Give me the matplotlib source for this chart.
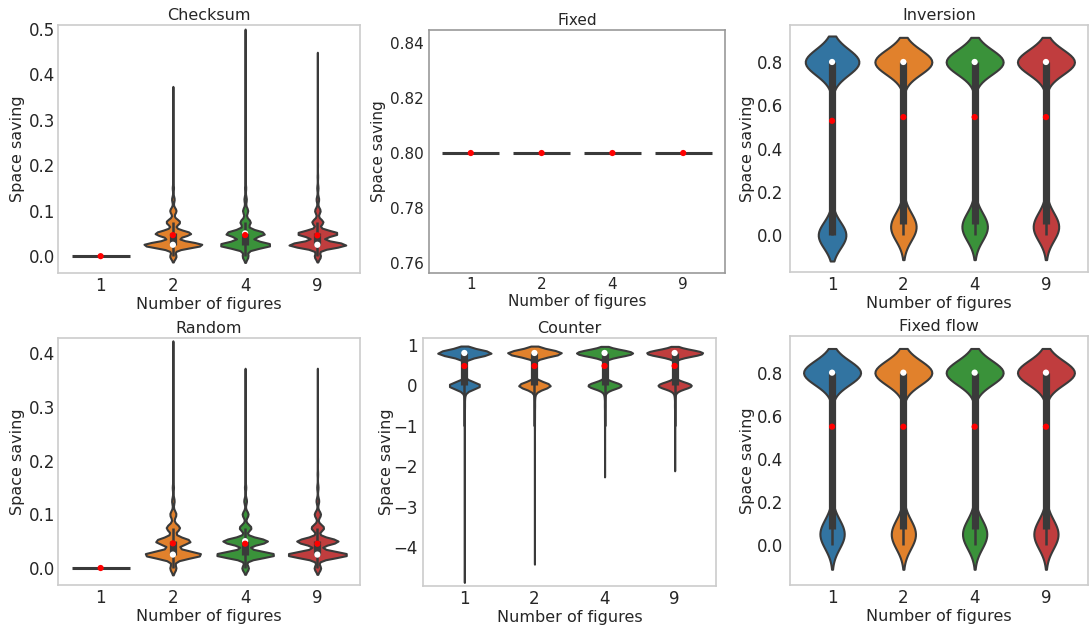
import numpy as np
import matplotlib
matplotlib.use("Agg")
import matplotlib.pyplot as plt

plt.rcParams['font.family'] = ['DejaVu Sans']

# ---------------- data (value levels and their counts) -------------
categories = ["1", "2", "4", "9"]

# Checksum
chk_vals_1 = [0.0]
chk_cnt_1 = [6000]
chk_vals_2 = [0.0, 0.025, 0.05, 0.075, 0.1, 0.125, 0.15, 0.175, 0.2, 0.225, 0.25, 0.275, 0.3, 0.325, 0.36]
chk_cnt_2 = [300, 2800, 1700, 650, 300, 125, 60, 27, 14, 7, 7, 7, 7, 7, 7]
chk_vals_4 = [0.0, 0.025, 0.05, 0.075, 0.1, 0.125, 0.15, 0.175, 0.2, 0.25, 0.3, 0.35, 0.4, 0.45, 0.485]
chk_cnt_4 = [300, 2700, 2030, 540, 270, 125, 60, 27, 14, 9, 7, 7, 7, 5, 5]
chk_vals_9 = [0.0, 0.025, 0.05, 0.075, 0.1, 0.125, 0.15, 0.175, 0.2, 0.25, 0.3, 0.35, 0.4, 0.435]
chk_cnt_9 = [300, 2750, 1980, 540, 270, 125, 60, 27, 14, 9, 7, 7, 5, 5]

# Fixed
fix_vals = [0.8]
fix_cnt = [1000]

# Inversion
inv_vals_1 = [0.0, 0.8]
inv_cnt_1 = [3400, 6600]
inv_vals_2 = [0.0, 0.025, 0.05, 0.075, 0.1, 0.8]
inv_cnt_2 = [700, 900, 1100, 400, 250, 6650]
inv_vals_4 = [0.0, 0.025, 0.05, 0.075, 0.1, 0.8]
inv_cnt_4 = [700, 900, 1100, 400, 250, 6650]
inv_vals_9 = [0.0, 0.025, 0.05, 0.075, 0.1, 0.8]
inv_cnt_9 = [700, 900, 1100, 400, 250, 6650]

# Random
rnd_vals_1 = [0.0]
rnd_cnt_1 = [6000]
rnd_vals_2 = [0.0, 0.025, 0.05, 0.075, 0.1, 0.125, 0.15, 0.175, 0.2, 0.25, 0.3, 0.35, 0.41]
rnd_cnt_2 = [300, 2800, 1700, 650, 300, 125, 60, 27, 14, 9, 7, 7, 7]
rnd_vals_4 = [0.0, 0.025, 0.05, 0.075, 0.1, 0.125, 0.15, 0.175, 0.2, 0.25, 0.3, 0.36]
rnd_cnt_4 = [300, 2700, 2030, 540, 270, 125, 60, 27, 14, 9, 7, 7]
rnd_vals_9 = [0.0, 0.025, 0.05, 0.075, 0.1, 0.125, 0.15, 0.175, 0.2, 0.25, 0.3, 0.36]
rnd_cnt_9 = [300, 2800, 1900, 580, 290, 125, 60, 27, 14, 9, 7, 7]

# Counter
cnt_vals_1 = [-4.7, -4.0, -3.0, -2.5, -2.0, -1.5, -1.0, -0.75, -0.5, -0.25, -0.1, 0.0, 0.8]
cnt_cnt_1 = [1, 1, 1, 1, 1, 2, 3, 7, 13, 27, 50, 1170, 2030]
cnt_vals_2 = [-4.25, -3.5, -3.0, -2.5, -2.0, -1.5, -1.0, -0.75, -0.5, -0.25, -0.1, 0.0, 0.8]
cnt_cnt_2 = [1, 1, 1, 1, 1, 2, 3, 7, 13, 27, 50, 1170, 2030]
cnt_vals_4 = [-2.1, -1.75, -1.5, -1.25, -1.0, -0.75, -0.5, -0.25, -0.1, 0.0, 0.8]
cnt_cnt_4 = [1, 1, 1, 2, 3, 7, 13, 27, 50, 1180, 2030]
cnt_vals_9 = [-1.95, -1.75, -1.5, -1.25, -1.0, -0.75, -0.5, -0.25, -0.1, 0.0, 0.8]
cnt_cnt_9 = [1, 1, 1, 2, 3, 7, 13, 27, 50, 1180, 2030]

# Fixed flow
ff_vals_1 = [0.0, 0.025, 0.05, 0.075, 0.1, 0.125, 0.8]
ff_cnt_1 = [500, 700, 800, 800, 450, 100, 6650]
ff_vals_2 = [0.0, 0.025, 0.05, 0.075, 0.1, 0.125, 0.8]
ff_cnt_2 = [550, 700, 800, 750, 450, 100, 6650]
ff_vals_4 = [0.0, 0.025, 0.05, 0.075, 0.1, 0.125, 0.8]
ff_cnt_4 = [520, 700, 800, 780, 450, 100, 6650]
ff_vals_9 = [0.0, 0.025, 0.05, 0.075, 0.1, 0.125, 0.8]
ff_cnt_9 = [540, 700, 800, 760, 450, 100, 6650]

titles = ["Checksum", "Fixed", "Inversion", "Random", "Counter", "Fixed flow"]
x_label = "Number of figures"
y_label = "Space saving"

# ---------------- style ----------------
palette = ["#3274a1", "#e1812c", "#3a923a", "#c03d3e"]
GRAY = "#3a3a3a"
TEXT = "#262626"
W, H = 1089, 628

fig = plt.figure(figsize=(W / 100, H / 100), dpi=100)


def px_axes(x0, y0, x1, y1):
    ax = fig.add_axes([x0 / W, 1 - y1 / H, (x1 - x0) / W, (y1 - y0) / H])
    ax._px = (x0, y0, x1, y1)
    return ax


def draw_violins(ax, vals, cnts):
    samples = [np.repeat(np.asarray(v, float), c) for v, c in zip(vals, cnts)]
    kdes = []
    for s in samples:
        if np.ptp(s) == 0:
            kdes.append(None)
            continue
        n = s.size
        bw = s.std(ddof=1) * n ** (-0.2)
        uv, uc = np.unique(s, return_counts=True)
        grid = np.linspace(s.min() - 2 * bw, s.max() + 2 * bw, 100)
        dens = (uc[None, :] * np.exp(-0.5 * ((grid[:, None] - uv[None, :]) / bw) ** 2)).sum(1)
        dens = dens / (n * bw * np.sqrt(2 * np.pi))
        kdes.append((grid, dens))
    dmax = max([k[1].max() for k in kdes if k is not None] + [1e-12])
    for i, (s, k) in enumerate(zip(samples, kdes)):
        if k is None:
            ax.plot([i - 0.4, i + 0.4], [s[0], s[0]], color=GRAY, lw=2.2,
                    solid_capstyle="butt", zorder=2)
        else:
            grid, dens = k
            half = dens / dmax * 0.4
            ax.fill_betweenx(grid, i - half, i + half, facecolor=palette[i],
                             edgecolor=GRAY, lw=1.5, zorder=2)
            q1, med, q3 = np.percentile(s, [25, 50, 75])
            iqr = q3 - q1
            lo = s[s >= q1 - 1.5 * iqr].min()
            hi = s[s <= q3 + 1.5 * iqr].max()
            ax.plot([i, i], [lo, hi], color=GRAY, lw=1.8, zorder=3, solid_capstyle="butt")
            ax.plot([i, i], [q1, q3], color=GRAY, lw=5.2, zorder=3, solid_capstyle="butt")
            ax.scatter([i], [med], s=20, color="white", edgecolors="none", zorder=4)
        ax.scatter([i], [s.mean()], s=20, color="red", edgecolors="none", zorder=5)


def style_axes(ax, title, ylim, yticks, fmt, ylab_center, spine_color="#cccccc",
               tick_fs=12, label_fs=11.5, title_fs=11.5, ypad=3):
    ax.set_xlim(-0.59, 3.59)
    ax.set_ylim(*ylim)
    ax.set_xticks(range(len(categories)))
    ax.set_xticklabels(categories)
    ax.set_yticks(yticks)
    ax.set_yticklabels([fmt(t) for t in yticks])
    ax.tick_params(axis="x", length=0, labelsize=tick_fs, labelcolor=TEXT, pad=3)
    ax.tick_params(axis="y", length=0, labelsize=tick_fs, labelcolor=TEXT, pad=ypad)
    for sp in ax.spines.values():
        sp.set_color(spine_color)
        sp.set_linewidth(1.2)
    ax.set_xlabel(x_label, fontsize=label_fs, color=TEXT, labelpad=1.5)
    ax.set_ylabel(y_label, fontsize=label_fs, color=TEXT)
    x0, y0, x1, y1 = ax._px
    ax.yaxis.set_label_coords((ylab_center + 7 - x0) / (x1 - x0), 0.5)
    ax.set_title(title, fontsize=title_fs, color=TEXT, pad=3.5)


f1 = lambda t: f"{t:.1f}"
f2 = lambda t: f"{t:.2f}"
fint = lambda t: f"{int(t)}".replace("-", "\u2212")

# Checksum
ax = px_axes(58, 25, 360, 273)
draw_violins(ax, [chk_vals_1, chk_vals_2, chk_vals_4, chk_vals_9],
             [chk_cnt_1, chk_cnt_2, chk_cnt_4, chk_cnt_9])
style_axes(ax, titles[0], (-0.037, 0.5077), [0, 0.1, 0.2, 0.3, 0.4, 0.5], f1, 18, ypad=2)

# Fixed
ax = px_axes(429, 30, 725, 273)
draw_violins(ax, [fix_vals] * 4, [fix_cnt] * 4)
style_axes(ax, titles[1], (0.7564, 0.8447), [0.76, 0.78, 0.80, 0.82, 0.84], f2, 379,
           spine_color="#999999", tick_fs=11, label_fs=11, title_fs=11, ypad=4)

# Inversion
ax = px_axes(790, 25, 1088, 272)
draw_violins(ax, [inv_vals_1, inv_vals_2, inv_vals_4, inv_vals_9],
             [inv_cnt_1, inv_cnt_2, inv_cnt_4, inv_cnt_9])
style_axes(ax, titles[2], (-0.171, 0.971), [0, 0.2, 0.4, 0.6, 0.8], f1, 748, ypad=5)

# Random
ax = px_axes(58, 338, 360, 585)
draw_violins(ax, [rnd_vals_1, rnd_vals_2, rnd_vals_4, rnd_vals_9],
             [rnd_cnt_1, rnd_cnt_2, rnd_cnt_4, rnd_cnt_9])
style_axes(ax, titles[3], (-0.0316, 0.428), [0, 0.1, 0.2, 0.3, 0.4], f1, 18, ypad=2)

# Counter
ax = px_axes(423, 338, 716, 586)
draw_violins(ax, [cnt_vals_1, cnt_vals_2, cnt_vals_4, cnt_vals_9],
             [cnt_cnt_1, cnt_cnt_2, cnt_cnt_4, cnt_cnt_9])
style_axes(ax, titles[4], (-4.96, 1.17), [-4, -3, -2, -1, 0, 1], fint, 387, ypad=4)

# Fixed flow
ax = px_axes(790, 336, 1088, 585)
draw_violins(ax, [ff_vals_1, ff_vals_2, ff_vals_4, ff_vals_9],
             [ff_cnt_1, ff_cnt_2, ff_cnt_4, ff_cnt_9])
style_axes(ax, titles[5], (-0.185, 0.97), [0, 0.2, 0.4, 0.6, 0.8], f1, 748, ypad=5)

fig.savefig("out.png", dpi=100)
